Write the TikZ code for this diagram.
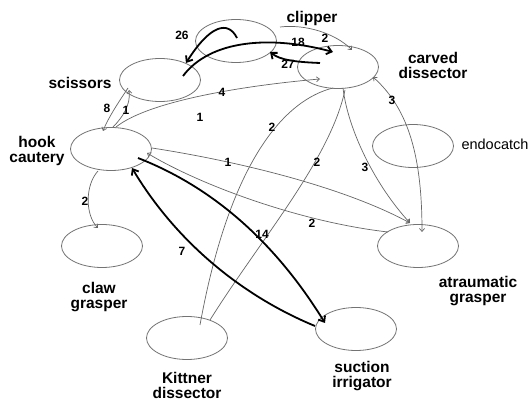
\documentclass[tikz,border=0pt]{standalone}
\usepackage{fontspec}
\setmainfont{Liberation Sans}
\usetikzlibrary{shapes.geometric,arrows.meta,calc}
\begin{document}
\begin{tikzpicture}[x=1pt,y=-1pt,
  state/.style={ellipse, draw=black!55, line width=0.8pt, minimum width=81pt, minimum height=43pt, inner sep=0pt},
  lbl/.style={font=\fontsize{15.5}{15}\selectfont\bfseries, align=center, inner sep=0pt},
  rlbl/.style={font=\fontsize{14.5}{15}\selectfont, align=center, inner sep=0pt},
  num/.style={font=\fontsize{12}{12}\selectfont\bfseries, inner sep=0pt},
  gl/.style={draw=black!60, line width=0.7pt},
  ge/.style={gl, -{Straight Barb[length=3pt,width=5pt]}},
  be/.style={draw=black, line width=1.8pt, -{Straight Barb[length=5pt,width=8pt]}},
]
\fill[white] (0,0) rectangle (531,401);
\useasboundingbox (0,0) rectangle (531,401);
% states
\node[state] (clipper) at (236,41) {};
\node[state] (scissors) at (160,80) {};
\node[state] (carved) at (338,67) {};
\node[state] (hook) at (111,149) {};
\node[state] (endocatch) at (413,146) {};
\node[state] (atraumatic) at (418,246) {};
\node[state] (claw) at (102,246) {};
\node[state] (kittner) at (187,338) {};
\node[state] (suction) at (356,329) {};
% names
\node[lbl] (tclipper) at (312,18) {clipper};
\node[lbl] (tcarved) at (433,65) {carved\\dissector};
\node[lbl] (tscissors) at (80,83) {scissors};
\node[lbl] (thook) at (37,151) {hook\\cautery};
\node[rlbl] (tendocatch) at (495,144) {endocatch};
\node[lbl] (tatraumatic) at (478,291) {atraumatic\\grasper};
\node[lbl] (tclaw) at (99,297) {claw\\grasper};
\node[lbl] (tkittner) at (187,385) {Kittner\\dissector};
\node[lbl] (tsuction) at (362,376) {suction\\irrigator};
% gray edges
\draw[ge] ($(clipper)+(44,-14)$) .. controls (305,24) and (335,33) .. ($(carved)+(14,-17)$);
\draw[ge] ($(scissors)+(-32,8)$) .. controls (120,100) and (108,118) .. ($(hook)+(-8,-18)$);
\draw[ge] ($(hook)+(2,-22)$) .. controls (122,118) and (131,105) .. ($(scissors)+(-31,10)$);
\draw[ge] ($(hook)+(5,-22)$) .. controls (150,100) and (250,85) .. ($(carved)+(-18,12)$);
\draw[gl] ($(carved)+(-5,21)$) .. controls (285,100) and (230,160) .. ($(kittner)+(13,-13)$);
\draw[gl] ($(carved)+(7,23)$) .. controls (330,160) and (260,240) .. ($(kittner)+(23,-18)$);
\draw[ge] ($(carved)+(5,21)$) .. controls (348,130) and (375,185) .. ($(atraumatic)+(-8,-23)$);
\draw[gl, {Straight Barb[length=3pt,width=5pt]}-{Straight Barb[length=3pt,width=5pt]}] ($(atraumatic)+(4,-14)$) .. controls (422,160) and (410,110) .. ($(carved)+(35,10)$);
\draw[ge] ($(hook)+(41,-1)$) .. controls (230,160) and (340,185) .. ($(atraumatic)+(-8,-23)$);
\draw[ge] ($(atraumatic)+(-30,-14)$) .. controls (300,222) and (200,185) .. ($(hook)+(36,4)$);
\draw[ge] ($(hook)+(-13,22)$) .. controls (85,185) and (85,215) .. ($(claw)+(-4,-18)$);
% black edges
\draw[be] ($(clipper)+(1,-3)$) .. controls (228,20) and (210,25) .. ($(scissors)+(26,-17)$);
\draw[be] ($(scissors)+(23,-4)$) .. controls (210,40) and (270,35) .. ($(carved)+(-5,-15)$);
\draw[be] ($(carved)+(-18,-4)$) .. controls (295,62) and (280,60) .. ($(clipper)+(34,11)$);
\draw[be] ($(hook)+(27,9)$) .. controls (220,190) and (280,250) .. ($(suction)+(-31,-6)$);
\draw[be] ($(suction)+(-41,-3)$) .. controls (240,295) and (175,240) .. ($(hook)+(21,19)$);
% edge labels
\node[num] (l26) at (182,35) {26};
\node[num] (l18) at (298,42) {18};
\node[num] (l27) at (288,64) {27};
\node[num] (l2a) at (325,38) {2};
\node[num] (l8) at (107,108) {8};
\node[num] (l1a) at (126,110) {1};
\node[num] (l4) at (222,92) {4};
\node[num] (l1b) at (200,117) {1};
\node[num] (l2b) at (272,127) {2};
\node[num] (l2c) at (317,162) {2};
\node[num] (l3a) at (365,167) {3};
\node[num] (l3b) at (392,100) {3};
\node[num] (l1c) at (228,162) {1};
\node[num] (l2d) at (312,223) {2};
\node[num] (l2e) at (85,201) {2};
\node[num] (l14) at (262,234) {14};
\node[num] (l7) at (182,251) {7};
\end{tikzpicture}
\end{document}
